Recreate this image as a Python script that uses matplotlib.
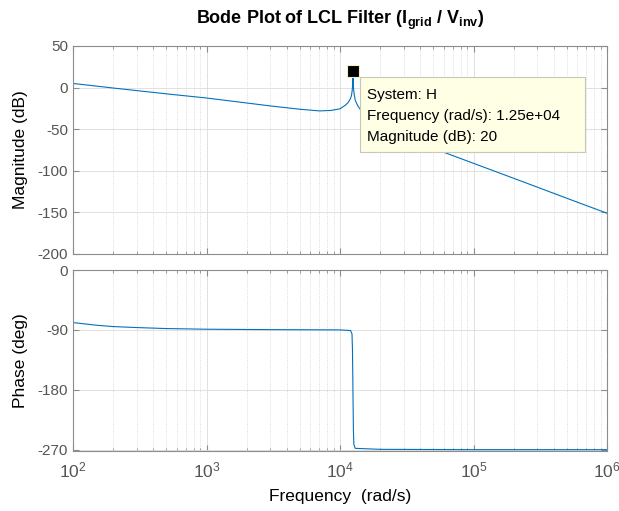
import numpy as np
import matplotlib
matplotlib.use("Agg")
import matplotlib.pyplot as plt
from matplotlib.patches import Rectangle
from matplotlib.ticker import LogLocator, NullFormatter

plt.rcParams['font.family'] = ['Liberation Sans', 'DejaVu Sans']
plt.rcParams['mathtext.fontset'] = 'custom'
plt.rcParams['mathtext.rm'] = 'Liberation Sans'
plt.rcParams['mathtext.it'] = 'Liberation Sans:italic'
plt.rcParams['mathtext.bf'] = 'Liberation Sans:bold'

# magnitude curve (rad/s, dB)
mag_freq = [1e2, 2e2, 5e2, 1e3, 2e3, 3e3, 5e3, 7e3, 8.5e3, 1e4, 1.1e4, 1.15e4,
            1.2e4, 1.22e4, 1.235e4, 1.245e4, 1.25e4, 1.255e4, 1.265e4, 1.28e4,
            1.3e4, 1.35e4, 1.4e4, 1.5e4, 1.7e4, 2e4, 3e4, 5e4, 1e5, 2e5, 5e5, 1e6]
mag_db = [5, -0.5, -7.5, -12.5, -18.5, -22, -26, -28, -27.5, -25.5, -21, -18,
          -13, -9, -3, 5, 20, 5, -3, -9,
          -15, -21, -25, -30.5, -37, -44, -60, -73, -91, -109, -133, -151]

# phase curve (rad/s, deg)
ph_freq = [1e2, 1.5e2, 2e2, 3e2, 5e2, 1e3, 3e3, 1e4, 1.2e4, 1.23e4, 1.24e4,
           1.25e4, 1.26e4, 1.27e4, 1.3e4, 2e4, 1e5, 1e6]
ph_deg = [-79, -83, -85, -86.5, -88, -89, -89.6, -90, -91, -96, -120,
          -180, -240, -262, -268, -269.5, -270, -270]

mag_ticks = [50, 0, -50, -100, -150, -200]
ph_ticks = [0, -90, -180, -270]
freq_ticks = [1e2, 1e3, 1e4, 1e5, 1e6]

tick_col = '#555555'
spine_col = '#8c8c8c'
line_col = '#0072BD'

fig = plt.figure(figsize=(6.19, 5.11), dpi=100)
ax1 = fig.add_axes([73/619, 1-254/511, 534/619, 208/511])
ax2 = fig.add_axes([73/619, 1-451/511, 534/619, 181/511])

ax1.semilogx(mag_freq, mag_db, color=line_col, lw=0.8)
ax2.semilogx(ph_freq, ph_deg, color=line_col, lw=0.8)

for ax in (ax1, ax2):
    ax.set_xlim(1e2, 1e6)
    ax.set_xticks(freq_ticks)
    ax.xaxis.set_minor_locator(LogLocator(base=10, subs=np.arange(2, 10), numticks=50))
    ax.xaxis.set_minor_formatter(NullFormatter())
    ax.grid(True, which='major', color='#dcdcdc', lw=0.6, ls='-')
    ax.grid(True, which='minor', axis='x', color='#d0d0d0', lw=0.6, ls=':')
    ax.set_axisbelow(True)
    ax.tick_params(which='both', direction='in', top=True, right=True,
                   colors=spine_col, labelcolor=tick_col, labelsize=11)
    ax.tick_params(which='major', length=4)
    ax.tick_params(which='minor', length=2.5)
    for s in ax.spines.values():
        s.set_color(spine_col)
        s.set_linewidth(0.8)

ax1.set_ylim(-200, 50)
ax1.set_yticks(mag_ticks)
ax1.set_yticklabels([str(t) for t in mag_ticks])
ax1.tick_params(axis='x', labelbottom=False)
ax1.set_ylabel('Magnitude (dB)', fontsize=12.5)

ax2.set_ylim(-272, 0)
ax2.set_yticks(ph_ticks)
ax2.set_yticklabels([str(t) for t in ph_ticks])
ax2.set_xticklabels([r'$10^{%d}$' % int(np.log10(f)) for f in freq_ticks])
ax2.tick_params(axis='x', which='major', labelsize=12.5, pad=7)
ax2.set_ylabel('Phase (deg)', fontsize=12.5)
ax2.set_xlabel('Frequency  (rad/s)', fontsize=12.5, labelpad=6)
ax1.yaxis.set_label_coords(-0.085, 0.5)
ax2.yaxis.set_label_coords(-0.085, 0.5)

fig.text(340/619, 1-20/511, r'Bode Plot of LCL Filter (I$_{\mathbf{grid}}$ / V$_{\mathbf{inv}}$)',
         ha='center', va='center', fontsize=13, fontweight='bold')

# data tip at the resonance peak
i_pk = int(np.argmax(mag_db))
ax1.plot(mag_freq[i_pk], mag_db[i_pk], marker='s', ms=9, mfc='black',
         mec='#f5f0c8', mew=0.8, ls='none', zorder=5)
box = Rectangle((360/619, 1-152/511), 225/619, 75/511, transform=fig.transFigure,
                facecolor='#ffffe6', edgecolor='#c8c8b4', lw=0.8, zorder=10)
fig.add_artist(box)
tip_lines = ['System: H',
             'Frequency (rad/s): %.2e' % mag_freq[i_pk],
             'Magnitude (dB): %g' % mag_db[i_pk]]
for k, txt in enumerate(tip_lines):
    fig.text(367/619, 1-(95 + 21*k)/511, txt, ha='left', va='center',
             fontsize=11, color='black', zorder=11)

fig.savefig('out.png', dpi=100)
